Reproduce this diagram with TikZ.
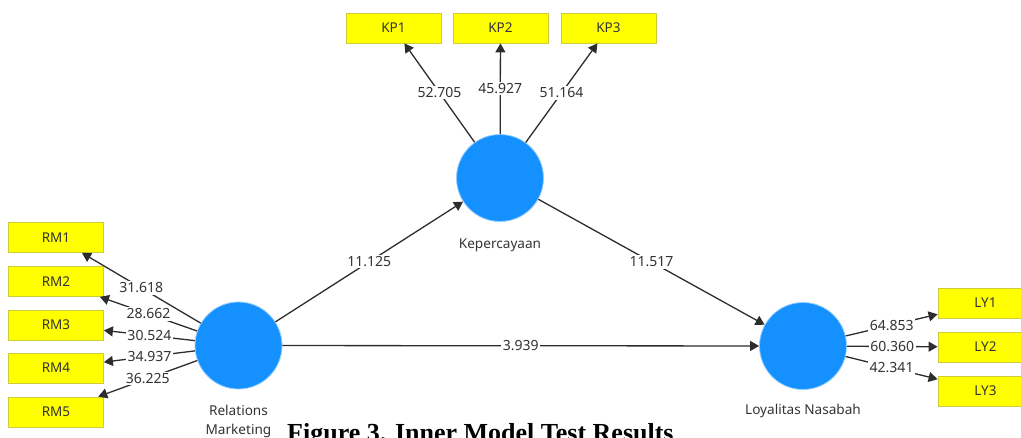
\documentclass[tikz,border=0pt]{standalone}
\usepackage{fontspec}
\setmainfont{Noto Sans}
\newfontfamily\capfont{Liberation Serif}
\usetikzlibrary{arrows.meta}
\definecolor{lvfill}{RGB}{20,145,255}
\definecolor{lvrim}{RGB}{150,205,255}
\definecolor{indfill}{RGB}{255,255,0}
\definecolor{indrim}{RGB}{205,205,60}
\definecolor{edgecol}{RGB}{45,45,45}
\definecolor{txtcol}{RGB}{51,51,51}

\begin{document}
\begin{tikzpicture}[x=1pt,y=-1pt,
  latent/.style={circle, fill=lvfill, draw=lvrim, line width=0.8pt,
    minimum size=87pt, inner sep=0pt},
  indicator/.style={rectangle, fill=indfill, draw=indrim, line width=0.8pt,
    minimum width=95pt, minimum height=30pt, inner sep=0pt,
    font=\fontsize{13.5}{15}\selectfont, text=txtcol},
  relpath/.style={draw=edgecol, line width=1.3pt,
    -{Triangle[length=9pt,width=10pt]}},
  coef/.style={fill=white, inner sep=1.5pt,
    font=\fontsize{14}{16}\selectfont, text=txtcol},
  lvname/.style={font=\fontsize{13.6}{19}\selectfont, text=txtcol,
    align=center, inner sep=0pt}]

\useasboundingbox (0,0) rectangle (1021,437);

% latent variables
\node[latent] (kp) at (500,178) {};
\node[latent] (rm) at (238.5,345.5) {};
\node[latent] (ly) at (803,346) {};

\node[lvname] (kpname) at (500,245) {Kepercayaan};
\node[lvname] (rmname) at (238.5,421.5) {Relations\\Marketing};
\node[lvname] (lyname) at (803,411) {Loyalitas Nasabah};

% indicators
\node[indicator] (kp1) at (393.5,28) {KP1};
\node[indicator] (kp2) at (500.5,28) {KP2};
\node[indicator] (kp3) at (608.5,28) {KP3};

\node[indicator] (rm1) at (56,237.5) {RM1};
\node[indicator] (rm2) at (56,281.5) {RM2};
\node[indicator] (rm3) at (56,325) {RM3};
\node[indicator] (rm4) at (56,368) {RM4};
\node[indicator] (rm5) at (56,412) {RM5};

\node[indicator] (ly1) at (985.5,303) {LY1};
\node[indicator] (ly2) at (985.5,347) {LY2};
\node[indicator] (ly3) at (985.5,391) {LY3};

% outer model
\draw[relpath] (kp) -- node[coef] {52.705} (kp1);
\draw[relpath] (kp) -- node[coef] {45.927} (kp2);
\draw[relpath] (kp) -- node[coef] {51.164} (kp3);

\draw[relpath] (rm) -- node[coef] {31.618} (rm1);
\draw[relpath] (rm) -- node[coef] {28.662} (rm2);
\draw[relpath] (rm) -- node[coef] {30.524} (rm3);
\draw[relpath] (rm) -- node[coef] {34.937} (rm4);
\draw[relpath] (rm) -- node[coef] {36.225} (rm5);

\draw[relpath] (ly) -- node[coef] {64.853} (ly1);
\draw[relpath] (ly) -- node[coef] {60.360} (ly2);
\draw[relpath] (ly) -- node[coef] {42.341} (ly3);

% inner model
\draw[relpath] (rm) -- node[coef] {11.125} (kp);
\draw[relpath] (kp) -- node[coef] {11.517} (ly);
\draw[relpath] (rm) -- node[coef] {3.939} (ly);

% caption
\node[anchor=base west, inner sep=0pt,
  font=\capfont\bfseries\fontsize{26}{30}\selectfont] (caption) at (287,441)
  {Figure 3. Inner Model Test Results};
\end{tikzpicture}
\end{document}
